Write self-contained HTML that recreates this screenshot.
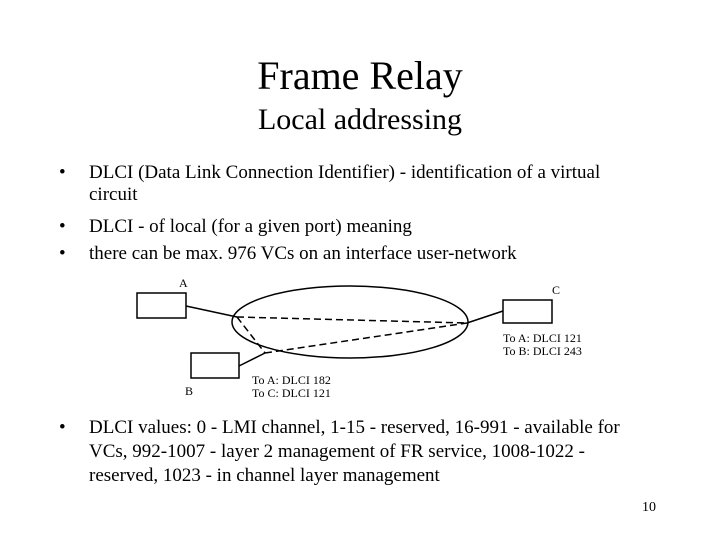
<!DOCTYPE html>
<html><head><style>
body{margin:0;width:720px;height:540px;background:#fff;font-family:"Liberation Serif",serif;color:#000;position:relative;overflow:hidden}
.t{position:absolute;white-space:nowrap}
</style></head><body>
<div class="t" style="left:0;width:720px;text-align:center;top:52px;font-size:40px">Frame Relay</div>
<div class="t" style="left:0;width:720px;text-align:center;top:103px;font-size:30px">Local addressing</div>
<div class="t" style="left:59px;top:162px;font-size:19px;line-height:22px">•</div>
<div class="t" style="left:89px;top:162px;font-size:19px;line-height:22px">DLCI (Data Link Connection Identifier) - identification of a virtual<br>circuit</div>
<div class="t" style="left:59px;top:216px;font-size:19px;line-height:22px">•</div>
<div class="t" style="left:89px;top:216px;font-size:19px;line-height:22px">DLCI - of local (for a given port) meaning</div>
<div class="t" style="left:59px;top:243px;font-size:19px;line-height:22px">•</div>
<div class="t" style="left:89px;top:243px;font-size:19px;line-height:22px">there can be max. 976 VCs on an interface user-network</div>
<svg style="position:absolute;left:0;top:0" width="720" height="540">
<g fill="none" stroke="#000" stroke-width="1.5">
<rect x="137" y="293" width="49" height="25"/>
<rect x="503" y="300" width="49" height="23"/>
<rect x="191" y="353" width="48" height="25"/>
<ellipse cx="350" cy="322" rx="118" ry="36"/>
<line x1="186" y1="306" x2="237" y2="317"/>
<line x1="467" y1="323" x2="503" y2="311"/>
<line x1="239" y1="366" x2="265" y2="353"/>
<g stroke-dasharray="7,4">
<line x1="237" y1="317" x2="467" y2="323"/>
<line x1="237" y1="317" x2="265" y2="353"/>
<line x1="265" y1="353" x2="467" y2="323"/>
</g></g>
<g font-family="Liberation Serif,serif" font-size="12">
<text x="179" y="287">A</text>
<text x="552" y="294">C</text>
<text x="185" y="395">B</text>
<text x="503" y="342">To A:  DLCI  121</text>
<text x="503" y="355">To B:  DLCI  243</text>
<text x="252" y="384">To A:  DLCI  182</text>
<text x="252" y="397">To C:  DLCI  121</text>
</g></svg>
<div class="t" style="left:59px;top:416px;font-size:19px;line-height:24px">•</div>
<div class="t" style="left:89px;top:416px;font-size:19px;line-height:24px">DLCI values: 0 - LMI channel, 1-15  - reserved, 16-991  - available for<br>VCs, 992-1007  - layer 2 management of FR service, 1008-1022  -<br>reserved, 1023  - in channel layer management</div>
<div class="t" style="left:642px;top:500px;font-size:14px">10</div>
</body></html>
